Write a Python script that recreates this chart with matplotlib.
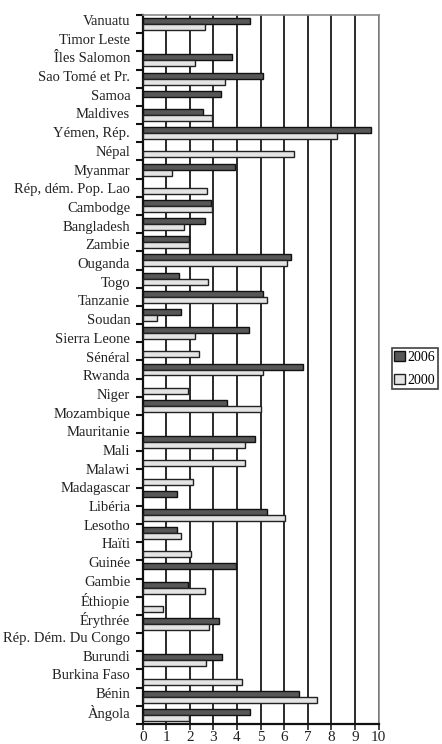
import numpy as np
import matplotlib
matplotlib.use("Agg")
import matplotlib.pyplot as plt
from matplotlib.patches import Patch

# Country labels, top to bottom (as printed)
categories = ["Vanuatu", "Timor Leste", "Îles Salomon", "Sao Tomé et Pr.", "Samoa",
              "Maldives", "Yémen, Rép.", "Népal", "Myanmar", "Rép, dém. Pop. Lao",
              "Cambodge", "Bangladesh", "Zambie", "Ouganda", "Togo", "Tanzanie",
              "Soudan", "Sierra Leone", "Sénéral", "Rwanda", "Niger", "Mozambique",
              "Mauritanie", "Mali", "Malawi", "Madagascar", "Libéria", "Lesotho",
              "Haïti", "Guinée", "Gambie", "Éthiopie", "Érythrée",
              "Rép. Dém. Du Congo", "Burundi", "Burkina Faso", "Bénin", "Àngola"]

# Bar rows as drawn in the chart, top to bottom (nan = no bar)
nan = np.nan
v2006 = [4.56, nan, 3.80, 5.10, 3.30, 2.54, 9.68, nan, 3.92, nan,
         2.89, 2.63, 1.96, 6.30, 1.55, 5.10, 1.62, 4.52, nan, 6.79,
         nan, 3.57, nan, 4.77, nan, nan, 1.45, 5.27, 1.45, nan,
         3.96, 1.91, nan, 3.24, nan, 3.38, nan, 6.62, 4.56]
v2000 = [2.65, nan, 2.21, 3.49, nan, 2.94, 8.23, 6.42, 1.25, 2.73,
         2.94, 1.76, 1.96, 6.11, 2.75, 5.27, 0.60, 2.23, 2.37, 5.12,
         1.94, 5.00, nan, 4.33, 4.33, 2.13, nan, 6.04, 1.62, 2.04,
         nan, 2.64, 0.84, 2.80, nan, 2.70, 4.21, 7.39, 1.96]
series_names = ["2006", "2000"]
xticks = list(range(0, 11))

W, H = 442, 744
fig = plt.figure(figsize=(W / 100, H / 100), dpi=100)
ax = fig.add_axes([142.7 / W, 1 - 724 / H, (378.5 - 142.7) / W, (724 - 15) / H])

serif = ["Liberation Serif", "DejaVu Serif"]
dark, light = "#575757", "#e4e4e4"
n = len(v2006)
pos = np.arange(n)
bh = 0.33
ax.barh(pos - bh / 2, v2006, height=bh, color=dark, edgecolor="#111111", linewidth=1.0, zorder=3)
ax.barh(pos + bh / 2, v2000, height=bh, color=light, edgecolor="#222222", linewidth=1.0, zorder=3)

ax.set_xlim(0, 10)
ax.set_ylim(n - 0.5, -0.5)
ax.set_xticks(xticks)
ax.set_xticklabels([str(t) for t in xticks], fontfamily=serif, fontsize=11)
ax.tick_params(axis="x", direction="out", length=4, width=1.2, pad=1, colors="#222222")
ax.set_yticks([])
ax.set_yticks(np.arange(-0.5, n), minor=True)
ax.tick_params(axis="y", which="minor", direction="out", length=5, width=1.5, colors="#111111")
for x in xticks[1:]:
    ax.axvline(x, color="#2a2a2a", linewidth=1.4, zorder=1)
for side in ["left", "bottom"]:
    ax.spines[side].set_color("#111111")
    ax.spines[side].set_linewidth(1.6)
for side in ["top", "right"]:
    ax.spines[side].set_color("#8a8a8a")
    ax.spines[side].set_linewidth(1.2)

# label axis (labels are spaced independently of the bar rows in the original)
ax2 = ax.twinx()
m = len(categories)
ax2.set_ylim(m - 1 + 12.3 / 18.69, -5 / 18.69)
ax2.yaxis.tick_left()
ax2.set_yticks(np.arange(m))
ax2.set_yticklabels(categories, fontfamily=serif, fontsize=10.5, color="#222222")
ax2.tick_params(axis="y", length=0, pad=9)
for s in ax2.spines.values():
    s.set_visible(False)

handles = [Patch(facecolor=dark, edgecolor="#111111", linewidth=1.0),
           Patch(facecolor=light, edgecolor="#222222", linewidth=1.0)]
leg = fig.legend(handles, series_names, loc="upper left", bbox_to_anchor=(391.5 / W, 1 - 348 / H),
                 prop={"family": serif, "size": 10}, frameon=True, fancybox=False,
                 handlelength=0.75, handleheight=0.75, handletextpad=0.2, borderpad=0.7,
                 borderaxespad=0, labelspacing=0.7)
leg.get_frame().set_edgecolor("#111111")
leg.get_frame().set_linewidth(1.2)
leg._legend_box.pad = 2
fig.savefig("out.png", dpi=100)
